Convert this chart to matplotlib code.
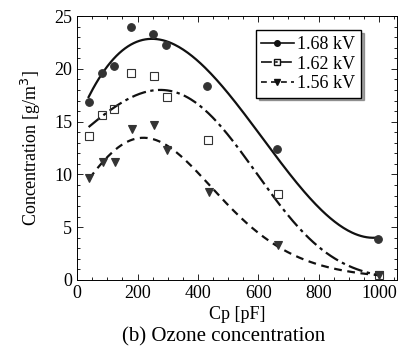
import numpy as np
import matplotlib.pyplot as plt
from matplotlib.ticker import MultipleLocator

plt.rcParams['font.family'] = ['Liberation Serif', 'DejaVu Serif']

# Cp [pF] and ozone concentration [g/m3]
cp_168 = [38, 82, 121, 178, 251, 293, 431, 663, 998]
conc_168 = [16.9, 19.6, 20.3, 24.0, 23.3, 22.3, 18.4, 12.4, 3.9]

cp_162 = [38, 82, 123, 179, 253, 297, 434, 665, 1000]
conc_162 = [13.6, 15.6, 16.2, 19.6, 19.3, 17.3, 13.3, 8.1, 0.45]

cp_156 = [40, 86, 125, 181, 253, 297, 437, 665, 1000]
conc_156 = [9.7, 11.2, 11.2, 14.3, 14.7, 12.3, 8.3, 3.3, 0.45]

fig = plt.figure(figsize=(4.06, 3.5), dpi=100)
ax = fig.add_axes([0.19, 0.2, 0.788, 0.754])

series = [
    (cp_168, conc_168, '1.68 kV', 'o', 'full', '-', False),
    (cp_162, conc_162, '1.62 kV', 's', 'none', (0, (6.5, 2, 1.5, 2)), True),
    (cp_156, conc_156, '1.56 kV', 'v', 'full', (0, (3.5, 2.5)), True),
]

for x, y, lab, mk, fill, ls, logfit in series:
    xs = np.linspace(min(x), max(x), 200)
    if logfit:
        coef = np.polyfit(x, np.log(y), 3)
        ys = np.exp(np.polyval(coef, xs))
    else:
        coef = np.polyfit(x, y, 3)
        ys = np.polyval(coef, xs)
    ax.plot(xs, ys, color='#111111', ls=ls, lw=1.6)
    ax.plot(x, y, ls='none', marker=mk, ms=5.5, fillstyle=fill,
            color='#333333', mew=0.8)
    ax.plot([], [], color='#111111', ls=ls, lw=1.2, marker=mk, ms=4,
            fillstyle=fill, label=lab)

ax.set_xlim(0, 1060)
ax.set_ylim(0, 25)
ax.xaxis.set_major_locator(MultipleLocator(200))
ax.xaxis.set_minor_locator(MultipleLocator(50))
ax.yaxis.set_major_locator(MultipleLocator(5))
ax.yaxis.set_minor_locator(MultipleLocator(1))
ax.tick_params(which='both', direction='in', top=True, right=True,
               labelsize=13, width=0.6)
ax.tick_params(which='major', length=4)
ax.tick_params(which='minor', length=2)
for s in ax.spines.values():
    s.set_linewidth(0.7)

ax.set_xlabel('Cp [pF]', fontsize=13, labelpad=3)
ax.set_ylabel('Concentration [g/m$^3$]', fontsize=13, labelpad=8)
fig.text(0.55, 0.025, '(b) Ozone concentration', ha='center', fontsize=15)

leg = ax.legend(loc='upper right', bbox_to_anchor=(0.915, 0.98), fontsize=13,
                frameon=True, fancybox=False, shadow=True, handlelength=1.8,
                handletextpad=0.2, borderpad=0.3, labelspacing=0.15)
leg.get_frame().set_edgecolor('black')
leg.get_frame().set_linewidth(1.0)

fig.savefig('out.png', dpi=100)
